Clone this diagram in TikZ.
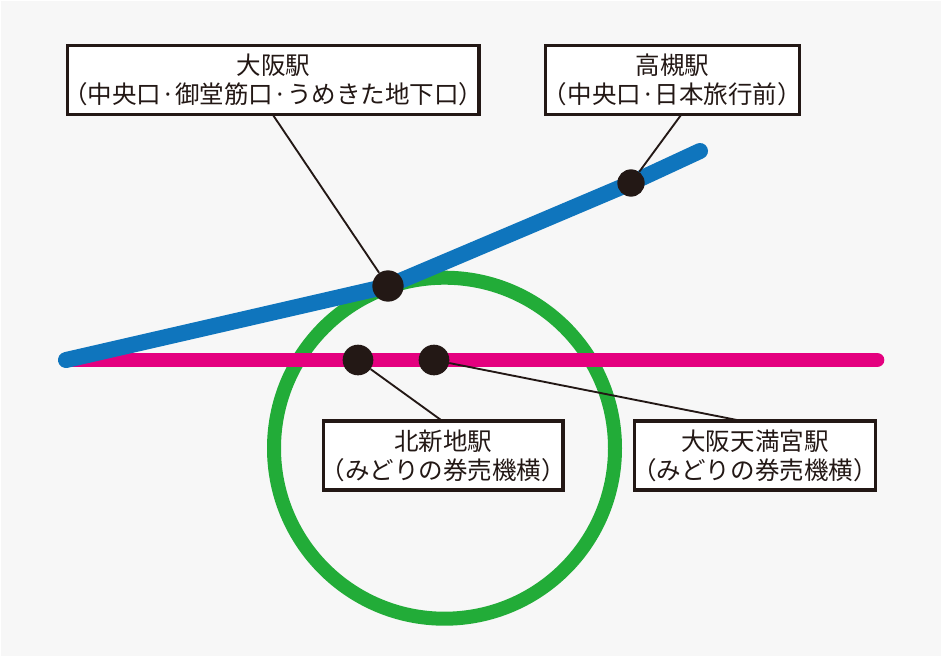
\documentclass[tikz,border=0pt]{standalone}
\usepackage{fontspec}
\setmainfont{Noto Sans CJK JP}
\usepackage{tikz}
\definecolor{bgcol}{HTML}{F7F7F7}
\definecolor{inkcol}{HTML}{231815}
\definecolor{blueline}{HTML}{0F75BD}
\definecolor{pinkline}{HTML}{E4007F}
\definecolor{greenline}{HTML}{22AC38}
\begin{document}
\begin{tikzpicture}[x=0.75pt,y=-0.75pt]
        \tikzstyle{rail} = [line width=11pt, line cap=round]
        \tikzstyle{station} = [circle, inner sep=0pt, fill=inkcol]
        \tikzstyle{leader} = [draw=inkcol, line width=1.4pt]
        \tikzstyle{label} = [rectangle, draw=inkcol, line width=2.5pt, fill=white, text=inkcol, align=center, inner ysep=0pt, inner xsep=-20pt, minimum height=51.8pt, font=\fontsize{18.4}{21.75}\selectfont]
        \useasboundingbox (0,0) rectangle (943,658);
        \fill[white] (0,0) rectangle (943,658);
        \fill[bgcol] (1,1) rectangle (941,656);
        \coordinate (west_end) at (66,360);
        \coordinate (east_end) at (877,360);
        \coordinate (north_end) at (700,151);
        \coordinate (osaka_pos) at (388,286);
        \coordinate (takatsuki_pos) at (631,183);
        \coordinate (kitashinchi_pos) at (358,360);
        \coordinate (tenmangu_pos) at (434,360);
        \node (loop_line) [circle, draw=greenline, line width=10.5pt, minimum size=255.75pt, inner sep=0pt] at (444.5,448.2) {};
        \draw[rail, pinkline] (west_end) -- (east_end);
        \draw[rail, blueline, line width=12pt] (west_end) -- (osaka_pos) -- (takatsuki_pos) -- (north_end);
        \node (osaka) [station, minimum size=23.5pt] at (osaka_pos) {};
        \node (takatsuki) [station, minimum size=20.5pt] at (takatsuki_pos) {};
        \node (kitashinchi) [station, minimum size=23pt] at (kitashinchi_pos) {};
        \node (tenmangu) [station, minimum size=23pt] at (tenmangu_pos) {};
        \node (osaka_box) [label, minimum width=308.5pt] at (273.3,79.7) {大阪駅\\（中央口·御堂筋口·うめきた地下口）};
        \node (takatsuki_box) [label, minimum width=190.3pt] at (672.5,79.7) {高槻駅\\（中央口·日本旅行前）};
        \node (kitashinchi_box) [label, minimum width=179.5pt] at (443.2,455.5) {北新地駅\\（みどりの券売機横）};
        \node (tenmangu_box) [label, minimum width=180.5pt] at (755,455.5) {大阪天満宮駅\\（みどりの券売機横）};
        \coordinate (osaka_foot) at (273,115);
        \coordinate (takatsuki_foot) at (681,115);
        \coordinate (kitashinchi_foot) at (441,420);
        \coordinate (tenmangu_foot) at (737,420);
        \draw[leader] (osaka_foot) -- (osaka);
        \draw[leader] (takatsuki_foot) -- (takatsuki);
        \draw[leader] (kitashinchi_foot) -- (kitashinchi);
        \draw[leader] (tenmangu_foot) -- (tenmangu);
    \end{tikzpicture}
\end{document}
